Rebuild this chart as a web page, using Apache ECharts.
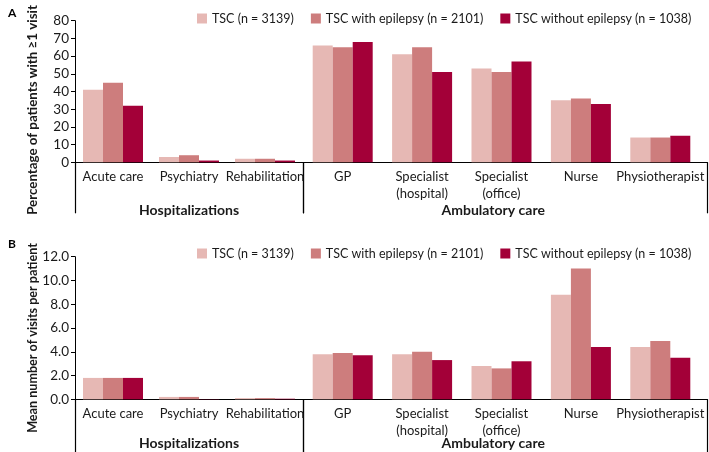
<!DOCTYPE html>
<html>
<head>
<meta charset="utf-8">
<script src="https://cdn.jsdelivr.net/npm/echarts@6/dist/echarts.min.js"></script>
<style>html,body{margin:0;padding:0;background:#fff;}#c{width:709px;height:452px;}</style>
</head>
<body>
<div id="c"></div>
<script>
// ---- data ----
const categoriesHosp = ['Acute care', 'Psychiatry', 'Rehabilitation'];
const categoriesAmb = ['GP', 'Specialist\n(hospital)', 'Specialist\n(office)', 'Nurse', 'Physiotherapist'];
const groupHosp = ['Hospitalizations'];
const groupAmb = ['Ambulatory care'];
const seriesNames = ['TSC (n = 3139)', 'TSC with epilepsy (n = 2101)', 'TSC without epilepsy (n = 1038)'];
const yTitleA = 'Percentage of patients with \u22651 visit';
const yTitleB = 'Mean number of visits per patient';

// Panel A: percentage of patients with >=1 visit
const pctTscHosp = [41, 3, 2];
const pctEpiHosp = [45, 4, 2];
const pctNoEpiHosp = [32, 1, 1];
const pctTscAmb = [66, 61, 53, 35, 14];
const pctEpiAmb = [65, 65, 51, 36, 14];
const pctNoEpiAmb = [68, 51, 57, 33, 15];

// Panel B: mean number of visits per patient
const visTscHosp = [1.8, 0.2, 0.1];
const visEpiHosp = [1.8, 0.2, 0.1];
const visNoEpiHosp = [1.8, 0.02, 0.05];
const visTscAmb = [3.8, 3.8, 2.8, 8.8, 4.4];
const visEpiAmb = [3.9, 4.0, 2.6, 11.0, 4.9];
const visNoEpiAmb = [3.7, 3.3, 3.2, 4.4, 3.5];

const yTicksA = {min: 0, max: 80, interval: 10};
const yTicksB = {min: 0, max: 12, interval: 2};

// ---- styling ----
const colors = ['#e6b8b4', '#cd7d7d', '#a30038'];
const FONT = 'Lato';
const TXT = '#1a1a1a';

// fit a bold title to a target length
const ctx = document.createElement('canvas').getContext('2d');
function fitSize(text, target) {
  ctx.font = 'bold 10px ' + FONT;
  return 10 * target / ctx.measureText(text).width;
}

const panels = [
  {top: 20.7, height: 141.6, y: yTicksA, fmt: v => String(v), title: yTitleA, titleY: 110, titleLen: 210,
   hosp: [pctTscHosp, pctEpiHosp, pctNoEpiHosp], amb: [pctTscAmb, pctEpiAmb, pctNoEpiAmb], tickLen: 51, groupMargin: 41},
  {top: 256.7, height: 142.6, y: yTicksB, fmt: v => v.toFixed(1), title: yTitleB, titleY: 338, titleLen: 190,
   hosp: [visTscHosp, visEpiHosp, visNoEpiHosp], amb: [visTscAmb, visEpiAmb, visNoEpiAmb], tickLen: 55, groupMargin: 37}
];

const grid = [], xAxis = [], yAxis = [], series = [], graphic = [];
panels.forEach((p, pi) => {
  const g0 = grid.length;
  const gbase = {top: p.top, height: p.height, outerBoundsMode: 'none', containLabel: false};
  grid.push(Object.assign({left: 75, width: 228}, gbase));
  grid.push(Object.assign({left: 303, width: 397}, gbase));
  grid.push(Object.assign({left: 303, width: 404.5}, gbase));
  const lineStyle = {color: '#000', width: 1};
  const catLabel = {fontFamily: FONT, fontSize: 13, color: TXT, margin: 6, lineHeight: 17, interval: 0};
  const xHosp = xAxis.length;
  xAxis.push({type: 'category', gridIndex: g0, data: categoriesHosp, axisLine: {lineStyle}, axisTick: {show: false}, axisLabel: catLabel});
  const xAmb = xAxis.length;
  xAxis.push({type: 'category', gridIndex: g0 + 1, data: categoriesAmb, axisLine: {lineStyle}, axisTick: {show: false}, axisLabel: catLabel});
  // group bracket axes
  xAxis.push({type: 'category', gridIndex: g0, data: groupHosp, position: 'bottom', axisLine: {show: false},
    axisTick: {show: true, length: p.tickLen, lineStyle: {color: '#000', width: 1.2}},
    axisLabel: {fontFamily: FONT, fontSize: 14, fontWeight: 'bold', color: TXT, margin: p.groupMargin}});
  xAxis.push({type: 'category', gridIndex: g0 + 2, data: groupAmb, position: 'bottom', axisLine: {lineStyle},
    axisTick: {show: true, length: p.tickLen, lineStyle: {color: '#000', width: 1.2}},
    axisLabel: {fontFamily: FONT, fontSize: 14, fontWeight: 'bold', color: TXT, margin: p.groupMargin, padding: [0, 24, 0, 0]}});
  const yBase = yAxis.length;
  yAxis.push({type: 'value', gridIndex: g0, min: p.y.min, max: p.y.max, interval: p.y.interval,
    splitLine: {show: false}, axisLine: {show: true, lineStyle}, axisTick: {show: true, length: 4, lineStyle},
    axisLabel: {fontFamily: FONT, fontSize: 13.5, color: TXT, margin: 6, formatter: p.fmt}});
  yAxis.push({type: 'value', gridIndex: g0 + 1, min: p.y.min, max: p.y.max, interval: p.y.interval, show: false});
  yAxis.push({type: 'value', gridIndex: g0 + 2, min: p.y.min, max: p.y.max, interval: p.y.interval, show: false});
  for (let s = 0; s < 3; s++) {
    series.push({type: 'bar', name: seriesNames[s], xAxisIndex: xHosp, yAxisIndex: yBase, data: p.hosp[s],
      barWidth: 20, barGap: '0%', itemStyle: {color: colors[s]}, silent: true});
    series.push({type: 'bar', name: seriesNames[s], xAxisIndex: xAmb, yAxisIndex: yBase + 1, data: p.amb[s],
      barWidth: 20, barGap: '0%', itemStyle: {color: colors[s]}, silent: true});
  }
  // y-axis title
  graphic.push({type: 'text', x: 33, y: p.titleY, rotation: Math.PI / 2,
    style: {text: p.title, fontFamily: FONT, fontWeight: 'bold', fontSize: fitSize(p.title, p.titleLen),
      fill: TXT, align: 'center', verticalAlign: 'middle'}});
});

const legendStyle = {itemWidth: 10, itemHeight: 10, itemGap: 17, icon: 'rect', width: 520, orient: 'horizontal', padding: 0,
  textStyle: {fontFamily: FONT, fontSize: 12.5, color: TXT}, data: seriesNames, selectedMode: false};

const chart = echarts.init(document.getElementById('c'), null, {renderer: 'canvas'});
chart.setOption({
  animation: false,
  color: colors,
  title: [
    {text: 'A', left: 3, top: 2, textStyle: {fontFamily: FONT, fontSize: 12, fontWeight: 'bold', color: '#000'}},
    {text: 'B', left: 3, top: 233, textStyle: {fontFamily: FONT, fontSize: 12, fontWeight: 'bold', color: '#000'}}
  ],
  legend: [
    Object.assign({left: 197, top: 12}, legendStyle),
    Object.assign({left: 197, top: 247}, legendStyle)
  ],
  graphic, grid, xAxis, yAxis, series
});
</script>
</body>
</html>
